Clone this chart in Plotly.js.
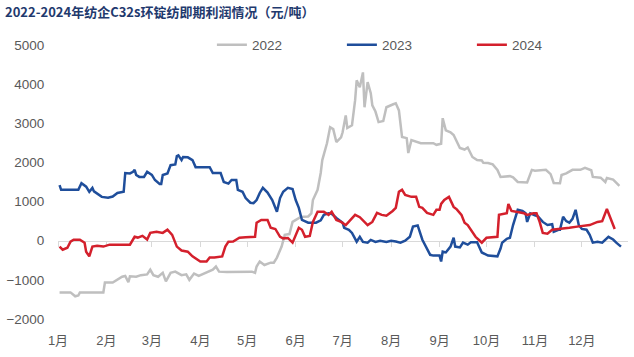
<!DOCTYPE html>
<html>
<head>
<meta charset="utf-8">
<script src="https://cdn.plot.ly/plotly-3.0.1.min.js"></script>
<style>html,body{margin:0;padding:0;background:#fff;}#chart{width:634px;height:357px;}</style>
</head>
<body>
<div id="chart"></div>
<script>
// x = day of year (0 = Jan 1), y = profit (元/吨)
const monthStarts = [0, 31, 60, 91, 121, 152, 182, 213, 244, 274, 305, 335];
const monthLabels = ["1月","2月","3月","4月","5月","6月","7月","8月","9月","10月","11月","12月"];
const yTicks = [-2000, -1000, 0, 1000, 2000, 3000, 4000, 5000];

const days2022 = [1,8,11,13,14,29,30,35,41,43,45,46,50,53,57,59,61,64,67,69,72,75,79,82,84,87,90,95,99,101,103,108,116,120,124,126,127,129,132,136,138,140,143,145,148,150,153,155,157,160,162,163,166,168,169,172,174,176,178,181,182,184,185,188,190,191,193,195,196,198,200,201,203,205,208,210,214,216,218,220,223,224,226,230,232,240,242,245,246,248,251,253,255,257,260,262,265,268,271,272,275,278,281,283,289,291,294,300,303,305,312,315,317,321,322,325,329,334,337,341,342,347,350,351,355,357,359];
const vals2022 = [-1320,-1320,-1420,-1400,-1320,-1320,-1070,-1070,-920,-900,-1060,-910,-920,-880,-860,-740,-880,-920,-820,-1040,-820,-790,-880,-860,-1000,-840,-900,-820,-740,-660,-790,-800,-790,-790,-790,-820,-660,-530,-620,-560,-560,-430,-150,150,170,480,560,600,610,620,700,1040,1300,1730,2060,2490,2900,2850,2520,2640,2770,3200,2880,2950,3590,4100,3920,4300,3410,4050,3770,3460,3300,3030,3060,3410,3480,3510,3330,2650,2620,2240,2570,2520,2490,2490,2450,2480,3130,2820,2770,2700,2520,2370,2330,2380,2140,2060,2050,1990,1985,1950,1810,1630,1650,1620,1500,1490,1810,1790,1810,1700,1475,1470,1680,1720,1810,1810,1860,1800,1630,1610,1500,1600,1560,1475,1400];

const days2023 = [1,2,8,13,15,18,20,22,23,26,28,32,35,38,42,43,46,48,49,50,52,55,57,60,62,65,66,67,70,72,75,76,77,79,80,83,86,88,97,99,104,106,109,111,114,115,118,120,123,125,127,129,131,134,137,140,142,144,147,150,152,154,156,160,165,168,170,173,175,178,182,183,186,188,191,193,195,198,200,203,206,210,213,216,219,222,225,227,230,233,238,240,244,245,246,248,251,253,254,257,259,262,264,268,271,275,281,283,284,287,289,291,294,297,299,300,302,305,307,310,313,316,317,320,321,323,325,327,329,331,333,335,338,340,342,345,348,352,355,357,360];
const vals2023 = [1420,1300,1300,1300,1470,1380,1250,1350,1260,1170,1120,1100,1130,1220,1250,1730,1720,1760,1810,1680,1630,1630,1760,1680,1550,1450,1450,1680,1720,1930,1950,2160,2180,2060,2140,2130,2060,1880,1880,1730,1730,1500,1460,1550,1550,1300,1250,1090,970,960,1040,1220,1350,1230,1040,740,1090,1250,1350,1320,1040,840,530,460,460,520,660,700,690,580,460,330,280,200,-25,100,-30,-50,20,-30,0,-30,0,-20,-50,0,100,360,390,25,-360,-380,-380,-530,-280,-300,-150,75,-150,-170,-50,-100,-40,-40,-300,-380,-400,-200,-50,50,75,400,790,760,700,480,700,650,620,480,400,420,230,280,280,610,500,460,560,790,400,300,280,150,-50,-30,-50,100,30,-50,-150];

const days2024 = [1,3,6,8,10,14,17,18,20,22,25,29,33,46,49,51,54,57,59,63,67,70,73,76,79,83,86,91,95,97,100,105,107,109,112,116,120,123,126,127,130,134,136,139,142,144,147,150,152,154,156,158,161,163,166,170,173,175,178,181,184,186,190,193,196,198,201,204,207,210,214,216,218,220,222,226,229,231,233,236,240,242,244,245,247,250,253,255,258,260,262,265,267,269,271,274,281,282,287,288,290,293,298,300,304,306,308,310,313,316,322,327,332,336,340,345,348,351,353,356];
const vals2024 = [-150,-230,-180,-25,25,25,-50,-280,-400,-150,-130,-150,-100,-100,100,80,125,30,200,230,200,280,150,-150,-250,-280,-400,-530,-530,-430,-430,-400,-150,-25,-20,75,90,100,100,460,530,530,330,300,100,60,70,-50,150,330,280,100,120,480,740,740,660,740,530,480,400,480,660,600,480,400,480,710,660,640,760,840,1250,1300,1170,1120,1120,865,840,710,660,790,790,940,1040,1120,865,800,660,460,400,230,100,25,-50,75,100,660,700,940,760,740,700,660,700,700,480,200,180,280,300,330,360,380,400,480,500,810,600,300];

const seriesNames = ["2022", "2023", "2024"];
const seriesColors = ["#BFBFBF", "#1F4E9B", "#D4202C"];
const seriesX = [days2022, days2023, days2024];
const seriesY = [vals2022, vals2023, vals2024];

const xRange = [0, 364.5];
const labelFont = {family: "Liberation Sans, Arial, Noto Sans CJK SC, sans-serif", size: 13.5, color: "#595959"};

const traces = seriesNames.map((n, i) => ({
  type: "scatter", mode: "lines", name: n,
  x: seriesX[i], y: seriesY[i],
  line: {color: seriesColors[i], width: 2.5},
  hoverinfo: "skip"
}));
traces.push({type: "scatter", mode: "lines", x: xRange, y: [null, null], xaxis: "x2", showlegend: false, hoverinfo: "skip"});

const layout = {
  width: 634, height: 357,
  margin: {l: 58, r: 6, t: 45, b: 38},
  paper_bgcolor: "#fff", plot_bgcolor: "#fff",
  showlegend: true,
  title: {
    text: "2022-2024年纺企C32s环锭纺即期利润情况（元/吨）",
    x: 5 / 634, xref: "container", xanchor: "left",
    y: 1 - 12 / 357, yref: "container", yanchor: "middle",
    pad: {l: 0, t: 0, r: 0, b: 0},
    font: {family: "Noto Sans CJK SC, sans-serif", size: 13, color: "#1F3A6E", weight: "bold"}
  },
  legend: {
    orientation: "h", x: 0.27, xanchor: "left", y: 1.0, yanchor: "middle",
    font: labelFont, itemwidth: 30, entrywidth: 85, entrywidthmode: "pixels",
    bgcolor: "rgba(0,0,0,0)"
  },
  xaxis: {
    range: xRange, tickmode: "array", tickvals: monthStarts, ticktext: monthLabels,
    showgrid: false, zeroline: false, showline: false,
    ticks: "outside", ticklen: 9, tickcolor: "rgba(0,0,0,0)",
    tickfont: {family: "Liberation Sans, Arial, Noto Sans CJK SC, sans-serif", size: 13, color: "#595959"},
    fixedrange: true
  },
  xaxis2: {
    overlaying: "x", anchor: "free", position: 2000 / 7000,
    range: xRange, tickmode: "array", tickvals: monthStarts,
    showticklabels: false, showgrid: false, zeroline: false,
    showline: true, linecolor: "#D9D9D9", linewidth: 1,
    ticks: "outside", ticklen: 5, tickcolor: "#D9D9D9", tickwidth: 1,
    layer: "below traces"
  },
  yaxis: {
    range: [-2000, 5000], tickmode: "array", tickvals: yTicks,
    showgrid: false, zeroline: false, showline: false,
    ticks: "outside", ticklen: 10, tickcolor: "rgba(0,0,0,0)",
    tickfont: labelFont, fixedrange: true
  }
};

Plotly.newPlot("chart", traces, layout, {staticPlot: true, displayModeBar: false});
</script>
</body>
</html>
